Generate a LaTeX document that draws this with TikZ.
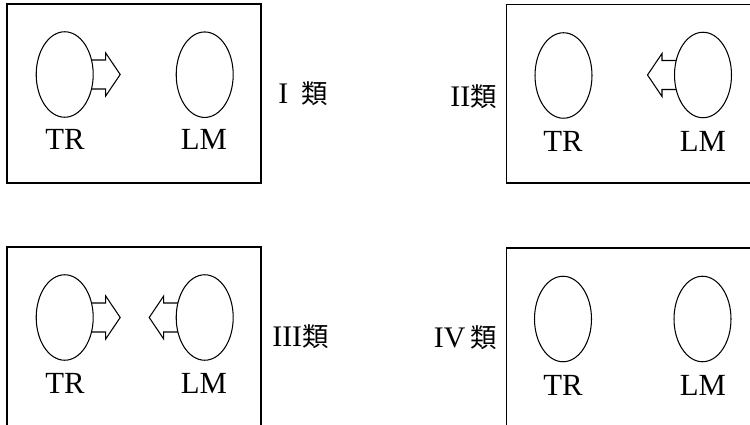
\documentclass[tikz,border=0pt]{standalone}
\usepackage{fontspec}
\setmainfont{Liberation Serif}
\newfontfamily\cjkfont{Noto Sans CJK JP}
\usetikzlibrary{shapes.geometric,backgrounds}
\newcommand{\lei}{{\cjkfont\fontsize{15}{15}\selectfont 類}}
\begin{document}
\begin{tikzpicture}[x=0.02cm,y=-0.02cm,
  frame/.style={draw, line width=0.9pt},
  blob/.style={ellipse, draw, fill=white, line width=0.6pt,
    minimum width=1.14cm, minimum height=1.71cm, inner sep=0pt},
  tag/.style={font=\fontsize{17.5}{17.5}\selectfont, anchor=base, inner sep=0pt},
  cls/.style={font=\fontsize{17}{17}\selectfont, inner sep=0pt},
  fat/.style={draw, fill=white, line width=0.6pt, line join=miter}]
\useasboundingbox (0,0) rectangle (750,425);
\clip (0,0) rectangle (750,425);

% frames
\draw[frame] (7,4) rectangle (261,183);
\draw[frame] (506.7,4.5) rectangle (770,183);
\draw[frame] (7,247) rectangle (261,440);
\draw[frame] (506.7,248) rectangle (770,440);

% type I
\node[blob] (tr1) at (64.7,74.5) {};
\node[blob] (lm1) at (204.7,74.7) {};
\node[tag] (trt1) at (65,150) {TR};
\node[tag] (lmt1) at (204,150) {LM};
\node[cls, anchor=west] (c1) at (278,94) {I\hspace{0.45em}\lei};

% type II
\node[blob] (tr2) at (563.5,75.5) {};
\node[blob] (lm2) at (703,75) {};
\node[tag] (trt2) at (563,152) {TR};
\node[tag] (lmt2) at (703,152) {LM};
\node[cls, anchor=east] (c2) at (497,97) {II\lei};

% type III
\node[blob] (tr3) at (64.7,317.5) {};
\node[blob] (lm3) at (204.7,317.5) {};
\node[tag] (trt3) at (65,393) {TR};
\node[tag] (lmt3) at (204,393) {LM};
\node[cls, anchor=west] (c3) at (272,337) {III\lei};

% type IV
\node[blob] (tr4) at (563,319) {};
\node[blob] (lm4) at (702.5,319) {};
\node[tag] (trt4) at (563,395) {TR};
\node[tag] (lmt4) at (703,395) {LM};
\node[cls, anchor=east] (c4) at (497,338) {IV\,\lei};

% block arrows, tucked behind the ellipses
\begin{scope}[on background layer]
  \foreach \src/\dir in {tr1/1, lm2/-1, tr3/1, lm3/-1} {
    \draw[fat, shift={(\src.center)}, xscale=\dir]
      (0,-14.5) -- (41,-14.5) -- (41,-21.5) -- (55.5,0) -- (41,21.5)
      -- (41,14.5) -- (0,14.5) -- cycle;
  }
\end{scope}
\end{tikzpicture}
\end{document}
